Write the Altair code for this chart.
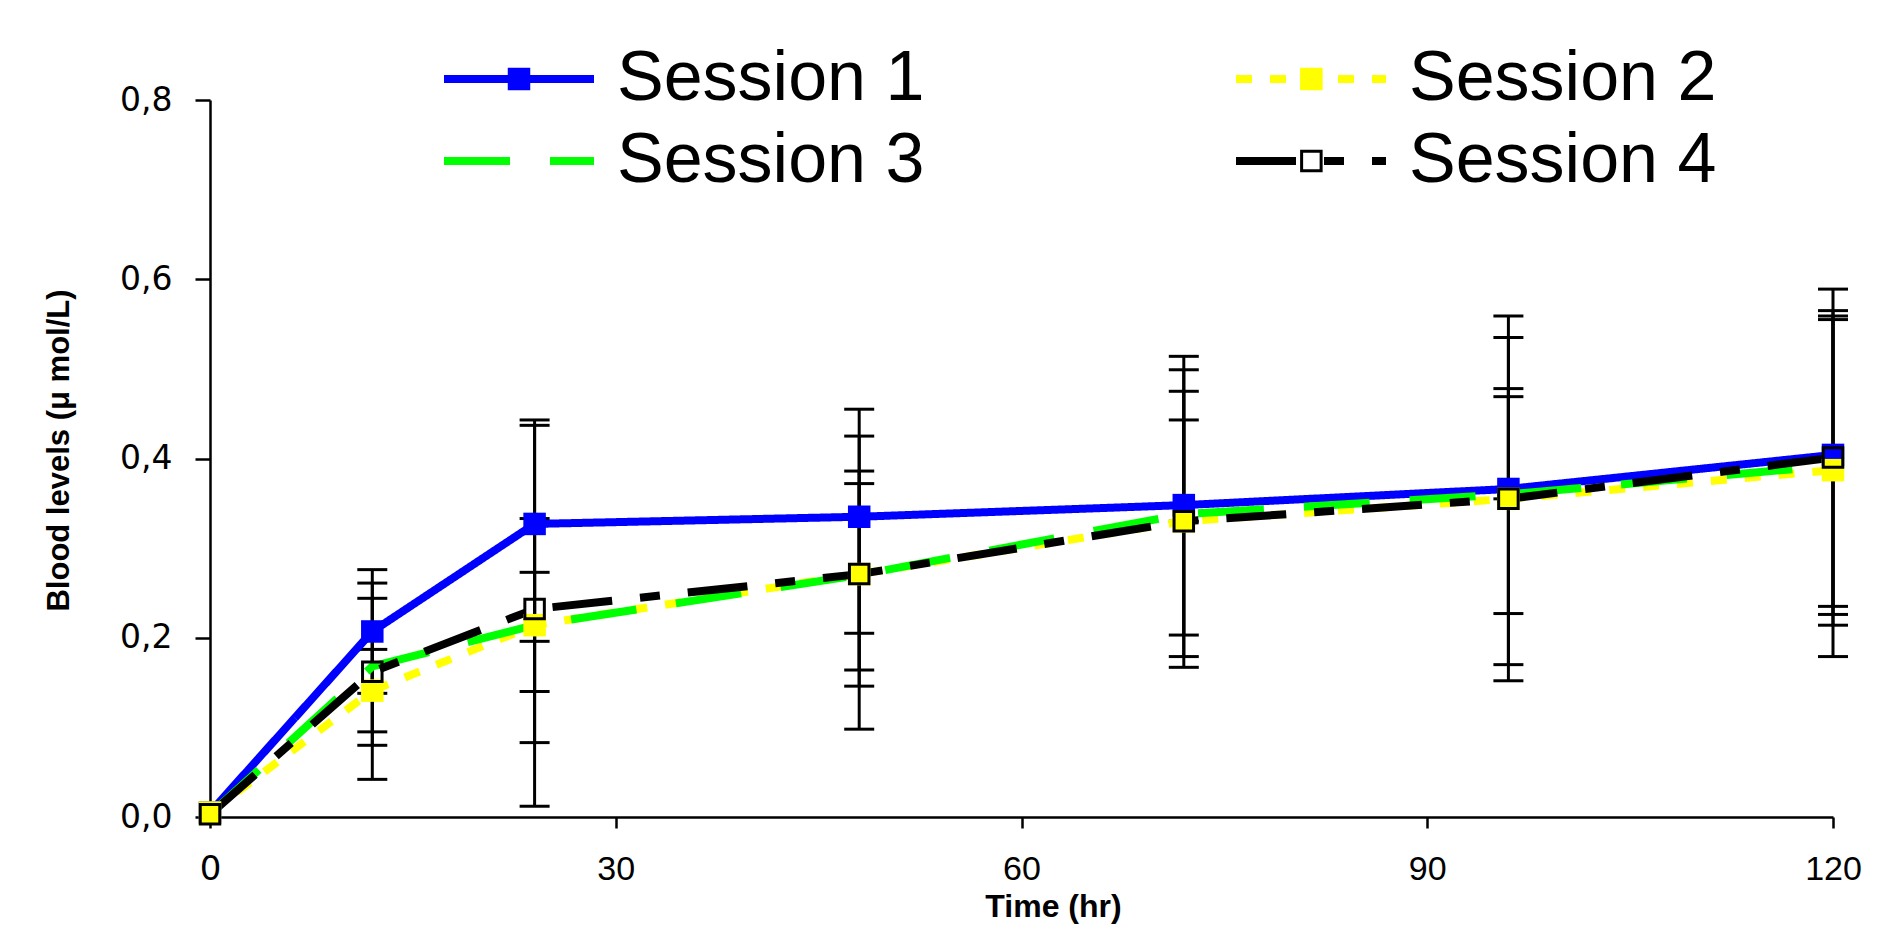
import altair as alt
import pandas as pd

# ---------------- data ----------------
sessions = ["Session 1", "Session 2", "Session 3", "Session 4"]
marker_keys = ["1", "2", "3", "4"]
time_hr = [0, 12, 24, 48, 72, 96, 120]

s1 = [0.005, 0.207, 0.327, 0.335, 0.348, 0.366, 0.404]
s2 = [0.005, 0.141, 0.214, 0.271, 0.330, 0.355, 0.387]
s3 = [0.003, 0.168, 0.214, 0.270, 0.338, 0.360, 0.392]
s4 = [0.003, 0.162, 0.232, 0.271, 0.330, 0.355, 0.401]

s1_hi = [None, 0.276, 0.437, 0.455, 0.514, 0.559, 0.589]
s1_lo = [None, 0.138, 0.196, 0.205, 0.179, 0.170, 0.214]
s2_hi = [None, 0.187, 0.333, 0.386, 0.499, 0.535, 0.559]
s2_lo = [None, 0.095, 0.083, 0.164, 0.167, 0.152, 0.179]
s3_hi = [None, 0.261, 0.273, 0.372, 0.475, 0.478, 0.555]
s3_lo = [None, 0.080, 0.140, 0.146, 0.203, 0.227, 0.226]
s4_hi = [None, 0.244, 0.443, 0.425, 0.443, 0.469, 0.565]
s4_lo = [None, 0.042, 0.012, 0.098, 0.330, 0.355, 0.235]

x_ticks = [0, 30, 60, 90, 120]
y_ticks = [0.0, 0.2, 0.4, 0.6, 0.8]

x_title = "Time (hr)"
y_title = "Blood levels (\u03bc mol/L)"

# ---------------- tables ----------------
means = [s1, s2, s3, s4]
his = [s1_hi, s2_hi, s3_hi, s4_hi]
los = [s1_lo, s2_lo, s3_lo, s4_lo]

rows = []
for name, key, m, hi, lo in zip(sessions, marker_keys, means, his, los):
    for t, v, h, l in zip(time_hr, m, hi, lo):
        rows.append({"session": name, "mk": key, "t": t, "v": v, "hi": h, "lo": l})
df = pd.DataFrame(rows)
df_err = df.dropna(subset=["hi", "lo"])
df_caps = pd.concat([
    df_err[["t", "hi"]].rename(columns={"hi": "cap"}),
    df_err[["t", "lo"]].rename(columns={"lo": "cap"}),
])
df_pts = df[df["session"] != "Session 3"]

# ---------------- styling ----------------
FONT = "Liberation Sans"
line_colors = ["#0000FF", "#FFFF00", "#00FF00", "#000000"]
line_dashes = [[1, 0], [16, 18], [66, 40], [60, 28, 20, 28]]

# symbol paths, unit = 15 px (symbol size 900)
EXT = "M-5,0M5,0"
LINE = "M-5,0L5,0"
SQ = EXT + "M-0.75,-0.75L0.75,-0.75L0.75,0.75L-0.75,0.75Z"
RING = (EXT + "M-0.75,-0.75L0.75,-0.75L0.75,0.75L-0.75,0.75Z"
        "M-0.55,-0.55L-0.55,0.55L0.55,0.55L0.55,-0.55Z")
pt_shapes = [SQ, SQ, EXT, RING]
pt_fills = ["#0000FF", "#FFFF00", "transparent", "#000000"]

x_scale = alt.Scale(domain=[0, 120], nice=False, zero=False)
y_scale = alt.Scale(domain=[0, 0.8], nice=False)

x_axis = alt.Axis(
    values=x_ticks, title=x_title, grid=False,
    titleFont=FONT, titleFontSize=32, titleFontWeight="bold", titleColor="black",
    titleX=843, titleY=99, titleBaseline="alphabetic", titleAlign="center",
    labelFont=alt.condition("datum.value == 0", alt.value("DejaVu Sans"), alt.value(FONT)),
    labelFontSize=34, labelColor="black", labelPadding=24, labelFlush=False,
    labelOverlap=False,
    tickSize=11, tickWidth=2.5, tickColor="black",
    domainColor="black", domainWidth=2.5,
)
y_axis = alt.Axis(
    values=y_ticks, title=y_title, grid=False,
    titleFont=FONT, titleFontSize=31, titleFontWeight="bold", titleColor="black",
    titleX=-142, titleY=350, titleAngle=270, titleBaseline="alphabetic",
    titleAlign="center",
    labelExpr="replace(format(datum.value, '.1f'), '.', ',')",
    labelFont="DejaVu Sans", labelFontSize=33, labelColor="black", labelPadding=23,
    labelFlush=False, labelOverlap=False,
    tickSize=15, tickWidth=2.5, tickColor="black",
    domainColor="black", domainWidth=2.5,
)

LABEL_SIZE = 70
COL_PAD = 295
label_w = 4.391 * LABEL_SIZE  # width of "Session n" in Liberation Sans

legend_common = dict(
    orient="none", legendX=274, legendY=-56, columns=2, direction="horizontal",
    title=None, symbolSize=900, labelFont=FONT, labelFontSize=LABEL_SIZE,
    labelOffset=63, rowPadding=12, labelLimit=0, padding=0,
)
leg_lines = alt.Legend(symbolType=LINE, symbolStrokeWidth=8,
                       labelColor="black", columnPadding=COL_PAD, **legend_common)
leg_marks = alt.Legend(symbolStrokeWidth=0, labelColor="black",
                       labelExpr="''", columnPadding=COL_PAD + label_w + 17,
                       **legend_common)

X = alt.X("t:Q", scale=x_scale, axis=x_axis)

err_rules = alt.Chart(df_err).mark_rule(color="black", strokeWidth=3).encode(
    x=X,
    y=alt.Y("lo:Q", scale=y_scale, axis=y_axis),
    y2="hi:Q",
)
err_caps = alt.Chart(df_caps).mark_tick(
    color="black", orient="horizontal", size=30, thickness=3, opacity=1
).encode(
    x=X,
    y=alt.Y("cap:Q", scale=y_scale, axis=y_axis),
)
lines = alt.Chart(df).mark_line(strokeWidth=8).encode(
    x=X,
    y=alt.Y("v:Q", scale=y_scale, axis=y_axis),
    stroke=alt.Stroke("session:N", scale=alt.Scale(domain=sessions, range=line_colors),
                      legend=leg_lines),
    strokeDash=alt.StrokeDash("session:N", scale=alt.Scale(domain=sessions, range=line_dashes),
                              legend=leg_lines),
)
points = alt.Chart(df_pts).mark_point(
    size=900, filled=True, strokeWidth=0, opacity=1
).encode(
    x=X,
    y=alt.Y("v:Q", scale=y_scale, axis=y_axis),
    shape=alt.Shape("mk:N", scale=alt.Scale(domain=marker_keys, range=pt_shapes),
                    legend=leg_marks),
    fill=alt.Fill("mk:N", scale=alt.Scale(domain=marker_keys, range=pt_fills),
                  legend=leg_marks),
)

chart = alt.layer(err_rules, err_caps, lines, points).properties(
    width=1623, height=717,
    autosize=alt.AutoSizeParams(type="none"),
    padding={"left": 202, "top": 92, "right": 40, "bottom": 110},
    background="white",
).configure_view(stroke=None)

chart.save("out.html", embed_options={"renderer": "svg", "actions": False})
